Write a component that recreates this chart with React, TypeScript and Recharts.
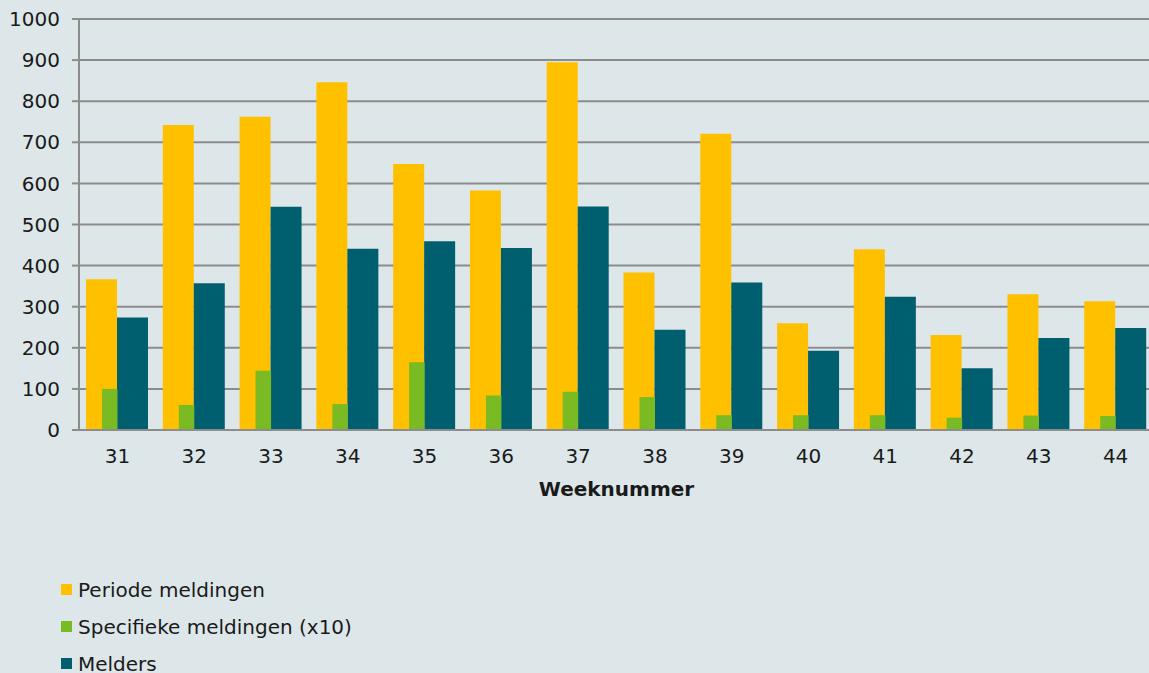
import { Bar, BarChart, CartesianGrid, XAxis, YAxis } from "recharts";

const weeks = ["31", "32", "33", "34", "35", "36", "37", "38", "39", "40", "41", "42", "43", "44"];
const periodeMeldingen = [367, 742, 762, 846, 647, 583, 895, 383, 721, 260, 440, 231, 330, 313];
const specifiekeMeldingen = [100, 61, 144, 63, 165, 84, 93, 80, 36, 36, 36, 30, 35, 34];
const melders = [274, 357, 543, 441, 459, 443, 544, 244, 359, 193, 324, 150, 224, 248];
const yTicks = [0, 100, 200, 300, 400, 500, 600, 700, 800, 900, 1000];

const series = [
  { key: "periode", name: "Periode meldingen", color: "#ffc000" },
  { key: "specifiek", name: "Specifieke meldingen (x10)", color: "#7aba22" },
  { key: "melders", name: "Melders", color: "#005f6e" },
];

const data = weeks.map((week, i) => ({
  week,
  periode: periodeMeldingen[i],
  specifiek: specifiekeMeldingen[i],
  melders: melders[i],
}));

const textColor = "#1a1a1a";
const gridColor = "#8c8c8c";

export default function App() {
  return (
    <div
      style={{
        position: "absolute",
        left: 0,
        top: 0,
        width: 1149,
        height: 673,
        overflow: "hidden",
        background: "#dde7e9",
        fontFamily: "'DejaVu Sans', Verdana, sans-serif",
      }}
    >
      <BarChart
        width={1160}
        height={673}
        data={data}
        barGap={0}
        margin={{ top: 19, right: 6, left: 0, bottom: 173 }}
      >
        <CartesianGrid vertical={false} stroke={gridColor} strokeWidth={2} />
        <XAxis
          xAxisId="main"
          dataKey="week"
          height={70}
          tickLine={false}
          axisLine={{ stroke: gridColor, strokeWidth: 2 }}
          tick={{ fontSize: 20, fill: textColor }}
          tickMargin={13}
          label={{
            value: "Weeknummer",
            position: "insideBottom",
            offset: 4,
            fontSize: 20,
            fontWeight: "bold",
            fill: textColor,
          }}
        />
        <XAxis xAxisId="green" dataKey="week" hide height={0} />
        <YAxis
          xAxisId="main"
          domain={[0, 1000]}
          ticks={yTicks}
          width={79}
          tickSize={7}
          tickMargin={12}
          tickLine={{ stroke: gridColor, strokeWidth: 2 }}
          axisLine={{ stroke: gridColor, strokeWidth: 2 }}
          tick={{ fontSize: 20, fill: textColor }}
          interval={0}
        />
        <Bar xAxisId="main" dataKey="periode" name={series[0].name} fill={series[0].color} barSize={31} isAnimationActive={false} />
        <Bar xAxisId="main" dataKey="melders" name={series[2].name} fill={series[2].color} barSize={31} isAnimationActive={false} />
        <Bar xAxisId="green" dataKey="specifiek" name={series[1].name} fill={series[1].color} barSize={15.5} isAnimationActive={false} />
        <Bar xAxisId="green" dataKey="specifiek" fill="transparent" barSize={15.5} legendType="none" isAnimationActive={false} />
      </BarChart>
      <div style={{ position: "absolute", left: 61, top: 571 }}>
        {series.map((s) => (
          <div
            key={s.key}
            style={{ display: "flex", alignItems: "center", height: 37, fontSize: 20, color: textColor }}
          >
            <span style={{ display: "inline-block", width: 11, height: 11, background: s.color, marginRight: 6 }} />
            {s.name}
          </div>
        ))}
      </div>
    </div>
  );
}
